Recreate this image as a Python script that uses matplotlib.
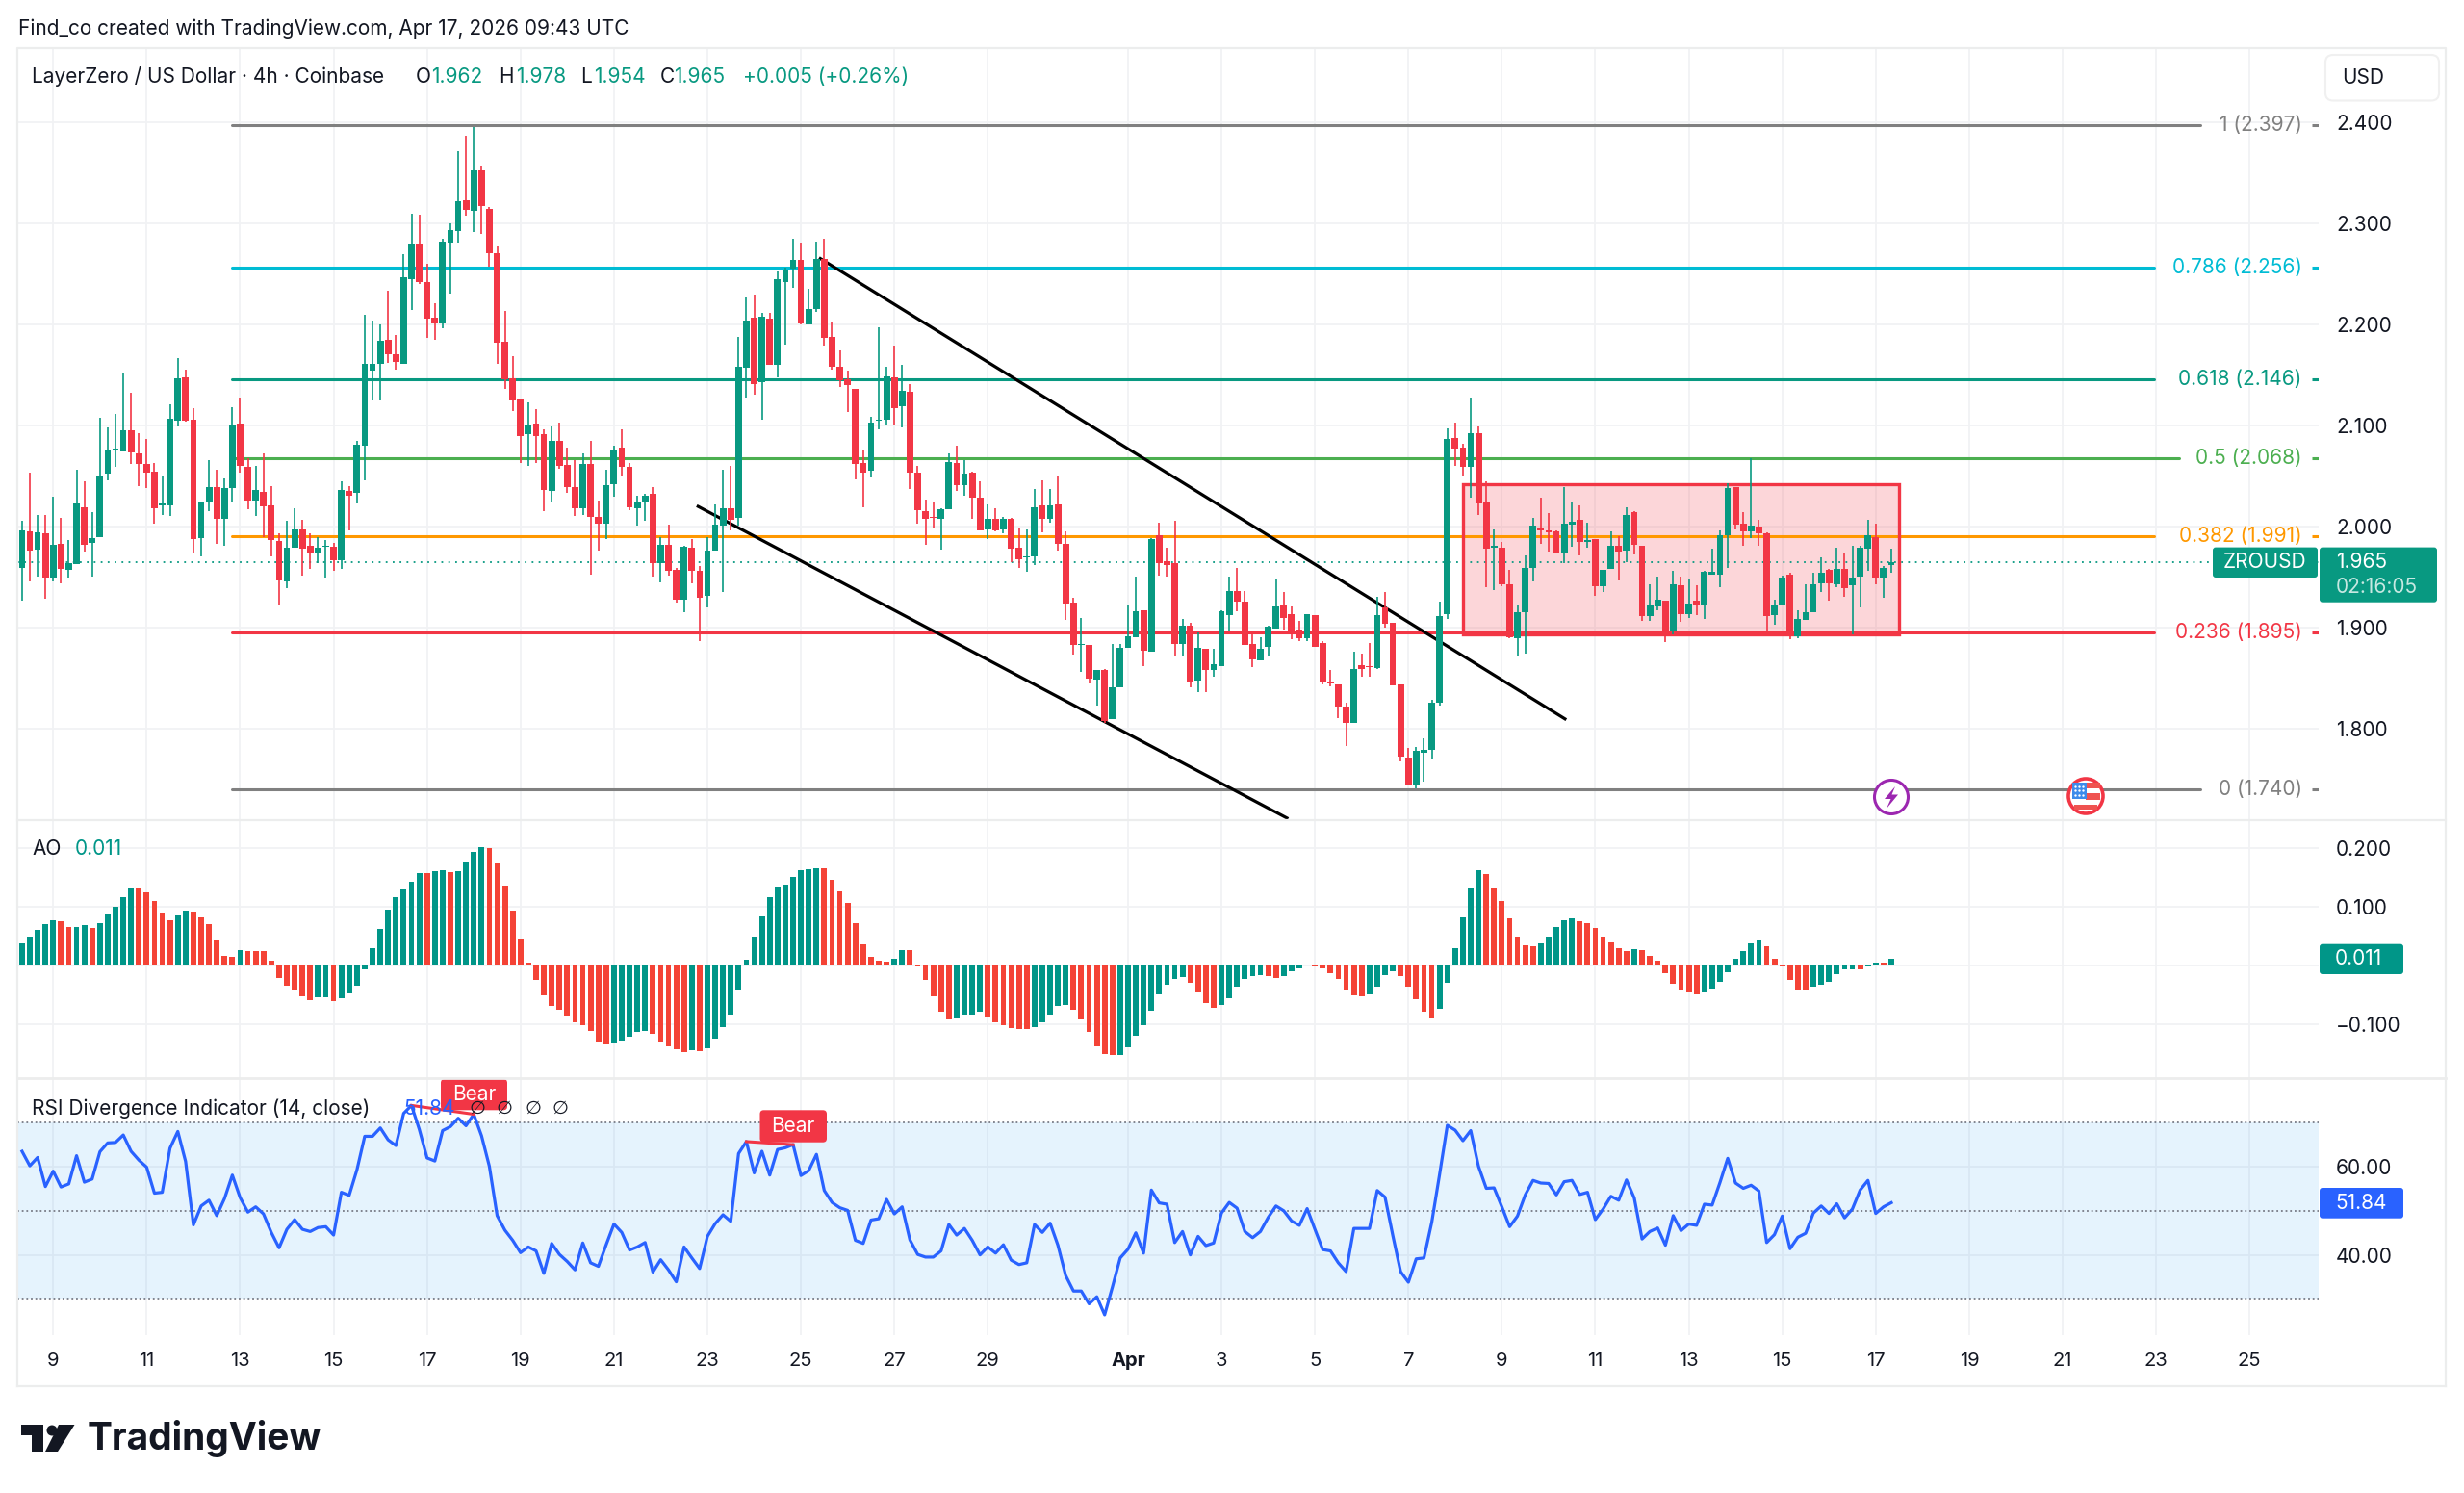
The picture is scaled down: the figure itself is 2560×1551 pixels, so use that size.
import matplotlib
matplotlib.use('Agg')
import matplotlib.pyplot as plt
import matplotlib.dates as mdates
import pandas as pd
from matplotlib.patches import Circle, FancyBboxPatch, Polygon, Rectangle

plt.rcParams['font.family'] = ['Inter', 'DejaVu Sans']

# ZRO/USD 4h candles
opens = [1.959,1.995,1.977,1.993,1.950,1.983,1.957,1.963,2.019,1.984,
         1.990,2.052,2.075,2.074,2.095,2.072,2.062,2.054,2.021,2.021,
         2.105,2.148,2.106,1.989,2.024,2.039,2.008,2.038,2.102,2.059,
         2.026,2.034,2.021,1.986,1.946,1.979,1.997,1.981,1.974,1.980,
         1.980,1.967,2.035,2.033,2.080,2.154,2.161,2.185,2.170,2.161,
         2.245,2.280,2.242,2.207,2.201,2.281,2.292,2.323,2.312,2.352,
         2.314,2.270,2.183,2.147,2.126,2.091,2.102,2.091,2.035,2.085,
         2.061,2.039,2.018,2.062,2.010,2.003,2.042,2.078,2.059,2.018,
         2.024,2.032,1.964,1.982,1.957,1.928,1.979,1.956,1.932,1.976,
         2.001,2.018,2.009,2.157,2.207,2.143,2.206,2.160,2.242,2.255,
         2.264,2.200,2.215,2.265,2.188,2.158,2.146,2.136,2.063,2.055,
         2.105,2.106,2.148,2.119,2.133,2.053,2.015,2.010,2.008,2.017,
         2.063,2.041,2.053,2.029,1.997,2.008,1.997,2.008,1.979,1.970,
         1.971,2.021,2.008,2.022,1.983,1.925,1.883,1.883,1.849,1.858,
         1.810,1.841,1.880,1.891,1.917,1.876,1.992,1.966,1.964,1.884,
         1.902,1.848,1.879,1.858,1.862,1.913,1.936,1.926,1.884,1.868,
         1.881,1.899,1.923,1.914,1.898,1.890,1.913,1.885,1.847,1.844,
         1.822,1.806,1.863,1.862,1.860,1.920,1.905,1.844,1.772,1.745,
         1.777,1.779,1.826,1.914,2.088,2.078,2.059,2.092,2.025,1.979,
         1.979,1.943,1.890,1.915,1.959,1.999,1.996,1.995,1.974,2.002,
         2.007,1.985,1.988,1.941,1.958,1.981,1.976,2.014,1.981,1.912,
         1.921,1.927,1.896,1.942,1.914,1.927,1.922,1.953,1.953,1.992,
         2.039,2.003,1.995,2.000,1.993,1.913,1.923,1.953,1.892,1.908,
         1.915,1.944,1.957,1.943,1.958,1.942,1.951,1.978,1.990,1.950,
         1.962]
highs = [2.006,2.053,2.012,2.012,2.030,2.009,1.987,2.056,2.045,2.014,
         2.108,2.098,2.111,2.151,2.132,2.092,2.087,2.063,2.051,2.121,
         2.167,2.155,2.117,2.025,2.066,2.056,2.048,2.118,2.128,2.068,
         2.060,2.072,2.040,1.993,2.006,2.018,2.007,1.993,1.990,1.987,
         1.984,2.045,2.040,2.085,2.209,2.204,2.200,2.233,2.189,2.269,
         2.309,2.308,2.260,2.221,2.285,2.300,2.371,2.386,2.395,2.357,
         2.316,2.277,2.213,2.169,2.126,2.123,2.116,2.096,2.099,2.103,
         2.078,2.066,2.072,2.085,2.026,2.056,2.080,2.096,2.063,2.031,
         2.032,2.039,1.990,2.002,1.959,1.981,1.988,1.961,1.990,2.022,
         2.056,2.060,2.188,2.227,2.229,2.211,2.211,2.252,2.256,2.285,
         2.281,2.235,2.282,2.285,2.202,2.174,2.154,2.136,2.075,2.109,
         2.197,2.158,2.179,2.160,2.141,2.060,2.027,2.024,2.018,2.072,
         2.080,2.066,2.054,2.045,2.022,2.018,2.010,2.009,1.998,1.997,
         2.037,2.046,2.037,2.050,1.995,1.930,1.910,1.883,1.858,1.859,
         1.884,1.884,1.922,1.951,1.917,1.989,2.004,1.979,2.006,1.909,
         1.905,1.895,1.879,1.879,1.917,1.951,1.959,1.936,1.897,1.891,
         1.902,1.949,1.935,1.921,1.907,1.914,1.913,1.887,1.858,1.844,
         1.826,1.876,1.875,1.885,1.931,1.935,1.905,1.844,1.781,1.782,
         1.791,1.829,1.926,2.097,2.103,2.082,2.128,2.099,2.045,1.997,
         1.985,1.957,1.923,1.972,2.009,2.029,2.013,1.996,2.039,2.024,
         2.021,2.004,1.988,1.957,1.995,1.991,2.019,2.015,1.981,1.943,
         1.951,1.927,1.956,1.951,1.948,1.942,1.956,1.978,1.996,2.043,
         2.039,2.014,2.068,2.007,1.994,1.928,1.952,1.954,1.917,1.943,
         1.954,1.970,1.958,1.979,1.974,1.981,1.981,2.007,2.003,1.961,
         1.978]
lows = [1.927,1.946,1.951,1.929,1.946,1.944,1.950,1.963,1.975,1.951,
        1.990,2.046,2.059,2.074,2.062,2.040,2.038,2.003,2.012,2.011,
        2.099,2.104,1.974,1.971,2.015,1.983,1.981,2.024,2.053,2.017,
        2.011,1.990,1.971,1.923,1.939,1.979,1.952,1.958,1.964,1.950,
        1.956,1.958,1.996,2.023,2.046,2.125,2.125,2.162,2.155,2.161,
        2.214,2.240,2.187,2.185,2.196,2.230,2.281,2.307,2.291,2.289,
        2.257,2.161,2.136,2.114,2.063,2.060,2.063,2.015,2.024,2.057,
        2.033,2.011,2.012,1.953,1.976,1.988,2.030,2.051,2.016,2.001,
        2.006,1.951,1.945,1.952,1.925,1.915,1.944,1.887,1.920,1.976,
        1.935,1.996,2.001,2.128,2.130,2.106,2.160,2.148,2.180,2.236,
        2.200,2.200,2.212,2.179,2.155,2.138,2.113,2.047,2.019,2.049,
        2.096,2.101,2.101,2.098,2.037,2.003,1.982,1.999,1.977,2.017,
        2.035,2.031,2.008,1.996,1.988,1.995,1.993,1.965,1.959,1.955,
        1.962,1.994,2.004,1.976,1.908,1.874,1.856,1.845,1.823,1.806,
        1.810,1.841,1.880,1.891,1.862,1.876,1.952,1.951,1.872,1.873,
        1.841,1.836,1.836,1.852,1.862,1.896,1.916,1.883,1.861,1.868,
        1.872,1.899,1.898,1.889,1.887,1.887,1.881,1.844,1.842,1.811,
        1.783,1.806,1.852,1.852,1.859,1.900,1.843,1.768,1.744,1.741,
        1.748,1.771,1.823,1.909,2.060,2.050,2.029,2.012,1.940,1.937,
        1.941,1.890,1.873,1.875,1.946,1.983,1.975,1.974,1.964,1.980,
        1.972,1.979,1.932,1.935,1.958,1.947,1.965,1.973,1.907,1.907,
        1.917,1.886,1.894,1.906,1.910,1.913,1.909,1.953,1.940,1.959,
        1.997,1.981,1.989,1.981,1.896,1.903,1.923,1.889,1.890,1.908,
        1.915,1.935,1.927,1.940,1.931,1.894,1.920,1.956,1.943,1.930,
        1.954]
closes = [1.996,1.976,1.994,1.950,1.982,1.958,1.964,2.023,1.982,1.989,
          2.051,2.075,2.077,2.095,2.073,2.062,2.053,2.018,2.023,2.107,
          2.147,2.105,1.988,2.024,2.039,2.008,2.038,2.100,2.060,2.026,
          2.036,2.020,1.987,1.947,1.979,1.997,1.978,1.974,1.979,1.981,
          1.967,2.036,2.031,2.081,2.161,2.161,2.184,2.170,2.163,2.247,
          2.280,2.242,2.206,2.201,2.282,2.293,2.322,2.313,2.352,2.317,
          2.270,2.182,2.146,2.125,2.090,2.100,2.090,2.036,2.085,2.060,
          2.039,2.018,2.062,2.010,2.003,2.041,2.075,2.059,2.019,2.024,
          2.031,1.964,1.982,1.956,1.928,1.980,1.956,1.930,1.976,2.002,
          2.018,2.007,2.158,2.204,2.141,2.208,2.160,2.245,2.253,2.264,
          2.201,2.215,2.265,2.187,2.158,2.145,2.140,2.062,2.053,2.103,
          2.106,2.149,2.117,2.134,2.053,2.016,2.008,2.009,2.017,2.064,
          2.041,2.052,2.029,1.996,2.008,1.996,2.008,1.978,1.968,1.971,
          2.019,2.008,2.021,1.983,1.924,1.883,1.884,1.850,1.858,1.808,
          1.841,1.880,1.892,1.916,1.877,1.988,1.964,1.962,1.884,1.902,
          1.846,1.880,1.858,1.864,1.916,1.936,1.926,1.883,1.869,1.879,
          1.901,1.921,1.910,1.897,1.890,1.914,1.881,1.846,1.845,1.822,
          1.806,1.859,1.859,1.861,1.913,1.904,1.843,1.773,1.745,1.778,
          1.779,1.826,1.912,2.087,2.077,2.059,2.092,2.023,1.978,1.981,
          1.943,1.891,1.915,1.959,2.001,1.996,1.994,1.974,2.003,2.005,
          1.985,1.987,1.941,1.957,1.981,1.975,2.012,1.982,1.912,1.922,
          1.928,1.896,1.943,1.914,1.924,1.922,1.955,1.955,1.992,2.038,
          2.002,1.995,2.001,1.993,1.912,1.923,1.950,1.893,1.909,1.915,
          1.943,1.954,1.944,1.958,1.939,1.950,1.979,1.992,1.950,1.959,
          1.965]

# Awesome Oscillator
ao = [0.038,0.050,0.060,0.071,0.078,0.075,0.0655,0.0660,0.069,0.064,
      0.073,0.089,0.100,0.116,0.134,0.131,0.125,0.111,0.090,0.078,
      0.085,0.093,0.092,0.082,0.071,0.043,0.016,0.014,0.027,0.025,
      0.0245,0.024,0.008,-0.021,-0.035,-0.042,-0.053,-0.059,-0.0545,-0.054,
      -0.061,-0.056,-0.048,-0.035,-0.006,0.029,0.062,0.096,0.117,0.130,
      0.143,0.158,0.1575,0.161,0.163,0.160,0.161,0.177,0.195,0.202,
      0.200,0.174,0.137,0.093,0.046,0.005,-0.025,-0.051,-0.070,-0.076,
      -0.086,-0.097,-0.102,-0.112,-0.130,-0.135,-0.134,-0.128,-0.122,-0.114,
      -0.112,-0.117,-0.131,-0.138,-0.143,-0.148,-0.1455,-0.146,-0.142,-0.125,
      -0.105,-0.084,-0.041,0.009,0.049,0.084,0.116,0.135,0.139,0.151,
      0.163,0.164,0.167,0.166,0.146,0.127,0.107,0.073,0.036,0.014,
      0.008,0.006,0.012,0.026,0.0255,-0.001,-0.025,-0.053,-0.080,-0.092,
      -0.091,-0.085,-0.084,-0.079,-0.088,-0.097,-0.103,-0.107,-0.109,-0.1095,
      -0.106,-0.097,-0.085,-0.070,-0.067,-0.076,-0.093,-0.114,-0.139,-0.152,
      -0.154,-0.153,-0.140,-0.120,-0.102,-0.078,-0.050,-0.033,-0.024,-0.020,
      -0.029,-0.047,-0.064,-0.073,-0.068,-0.056,-0.037,-0.024,-0.018,-0.017,
      -0.019,-0.021,-0.018,-0.010,-0.005,0.002,-0.002,-0.005,-0.013,-0.024,
      -0.041,-0.052,-0.053,-0.050,-0.037,-0.017,-0.010,-0.018,-0.036,-0.057,
      -0.080,-0.091,-0.075,-0.030,0.029,0.082,0.133,0.163,0.157,0.133,
      0.111,0.081,0.049,0.034,0.032,0.038,0.050,0.066,0.078,0.081,
      0.076,0.073,0.064,0.049,0.039,0.029,0.0245,0.028,0.027,0.017,
      0.008,-0.013,-0.032,-0.042,-0.046,-0.050,-0.047,-0.039,-0.028,-0.012,
      0.011,0.025,0.038,0.043,0.032,0.011,-0.002,-0.025,-0.041,-0.042,
      -0.036,-0.033,-0.028,-0.015,-0.007,-0.006,-0.007,-0.001,0.005,0.004,
      0.011]

# RSI (14, close)
rsi = [63.5,60.2,62.1,55.5,59.0,55.4,56.1,62.5,56.5,57.2,
       63.4,65.4,65.5,67.2,63.5,61.5,59.9,54.0,54.2,64.2,
       68.0,61.2,46.8,51.1,52.4,48.9,52.8,58.1,53.0,49.7,
       50.9,49.3,45.1,41.6,45.8,48.0,45.8,45.3,46.2,46.4,
       44.5,54.2,53.5,59.3,66.9,66.9,68.8,66.1,64.8,72.1,
       73.9,68.5,62.0,61.3,68.2,69.1,71.0,69.3,71.9,67.0,
       60.1,48.9,45.6,43.3,40.5,41.8,40.9,35.8,42.6,40.1,
       38.5,36.6,42.7,38.2,37.4,42.3,47.0,45.1,41.1,41.8,
       42.8,36.1,38.9,36.6,33.9,41.8,39.3,36.9,44.2,47.1,
       49.1,47.6,63.0,65.7,58.6,63.5,58.1,63.9,64.3,65.0,
       58.0,59.1,62.8,54.6,51.9,50.7,50.1,43.3,42.6,47.9,
       48.2,52.6,49.3,50.9,43.4,40.1,39.5,39.5,40.9,46.9,
       44.5,46.0,43.3,40.0,41.8,40.4,42.3,38.8,37.8,38.2,
       46.9,45.1,47.2,42.2,35.3,31.8,31.8,28.9,30.5,26.4,
       32.7,39.3,41.3,45.0,40.4,54.7,51.8,51.5,42.8,45.3,
       40.0,44.2,42.1,42.7,49.5,51.9,50.6,45.3,43.9,45.3,
       48.5,51.1,50.0,47.7,46.7,50.5,45.8,41.2,40.9,38.2,
       36.2,46.0,46.0,46.0,54.6,53.1,44.4,36.2,33.8,39.1,
       39.3,47.4,58.2,69.4,68.3,65.9,68.2,60.1,55.1,55.2,
       50.9,46.4,48.8,53.6,56.9,56.3,56.2,53.6,56.6,56.9,
       53.7,54.2,48.0,50.4,53.3,52.4,57.0,52.9,43.6,45.3,
       46.1,42.2,48.9,45.5,47.0,46.7,51.5,51.3,56.4,61.9,
       56.3,55.1,55.8,54.5,42.8,44.6,48.8,41.4,44.0,44.9,
       49.5,51.1,49.4,51.6,48.4,50.4,54.7,56.9,49.4,50.9,
       51.84]

# Fibonacci retracement levels
fib_labels = ['1 (2.397)', '0.786 (2.256)', '0.618 (2.146)', '0.5 (2.068)',
              '0.382 (1.991)', '0.236 (1.895)', '0 (1.740)']
fib_levels = [2.397, 2.256, 2.146, 2.068, 1.991, 1.895, 1.740]
fib_colors = ['#808080', '#00bcd4', '#089981', '#4caf50', '#ff9800', '#f23645', '#808080']
fib_line_end = [2286, 2238, 2238, 2264, 2238, 2238, 2286]

price_ticks = [1.8, 1.9, 2.0, 2.1, 2.2, 2.3, 2.4]
price_tick_labels = ['1.800', '1.900', '2.000', '2.100', '2.200', '2.300', '2.400']
ao_ticks = [-0.1, 0, 0.1, 0.2]
ao_tick_labels = ['\u22120.100', '', '0.100', '0.200']
rsi_ticks = [40, 60]
rsi_tick_labels = ['40.00', '60.00']
rsi_levels = [30, 50, 70]

# channel trend lines and consolidation box (bar index, price)
upper_trend_bars = [102.5, 198.1]
upper_trend_prices = [2.265, 1.810]
lower_trend_bars = [86.8, 162.4]
lower_trend_prices = [2.020, 1.712]
box_bars = [185, 241]
box_prices = [1.894, 2.0417]

# RSI divergence segments (bar indexes)
bear_segments = [(50, 58), (93, 99)]

day_ticks = ['2026-03-09', '2026-03-11', '2026-03-13', '2026-03-15', '2026-03-17', '2026-03-19',
             '2026-03-21', '2026-03-23', '2026-03-25', '2026-03-27', '2026-03-29', '2026-04-01',
             '2026-04-03', '2026-04-05', '2026-04-07', '2026-04-09', '2026-04-11', '2026-04-13',
             '2026-04-15', '2026-04-17', '2026-04-19', '2026-04-21', '2026-04-23', '2026-04-25']
day_labels = ['9', '11', '13', '15', '17', '19', '21', '23', '25', '27', '29', 'Apr',
              '3', '5', '7', '9', '11', '13', '15', '17', '19', '21', '23', '25']

GREEN = '#089981'
RED = '#f23645'
AO_GREEN = '#009688'
AO_RED = '#f44336'
BLUE = '#2962ff'
INK = '#131722'
GRID = '#f1f2f4'
FRAME = '#eceded'

W, H = 2560, 1551
LEFT, RIGHT = 18, 2409

fig = plt.figure(figsize=(W / 100, H / 100), dpi=100, facecolor='white')


def pane(top, bottom):
    ax = fig.add_axes([LEFT / W, 1 - bottom / H, (RIGHT - LEFT) / W, (bottom - top) / H])
    for s in ax.spines.values():
        s.set_visible(False)
    ax.set_axisbelow(True)
    ax.grid(True, color=GRID, lw=1.3)
    ax.yaxis.tick_right()
    ax.tick_params(axis='y', length=0, pad=13, labelsize=15, labelcolor=INK)
    ax.tick_params(axis='x', length=0, labelbottom=False)
    return ax


dates = pd.date_range('2026-03-08 08:00', periods=len(closes), freq='4h')
x = mdates.date2num(dates)
bar = 1 / 6
px_per_bar = 8.092


def bar_x(i):
    return x[0] + i * bar


xlim = (bar_x((LEFT - 22.9) / px_per_bar), bar_x((RIGHT - 22.9) / px_per_bar))
tick_x = mdates.date2num(pd.to_datetime(day_ticks))

ax1 = pane(50, 851.5)
ax2 = pane(851.5, 1120)
ax3 = pane(1120, 1387)
for ax in (ax1, ax2, ax3):
    ax.set_xlim(xlim)
    ax.set_xticks(tick_x)

# price pane
ax1.set_ylim(1.7104, 2.473)
ax1.set_yticks(price_ticks, price_tick_labels)

trans = ax1.get_yaxis_transform()
fib_start = bar_x(26.9)
for label, level, color, end in zip(fib_labels, fib_levels, fib_colors, fib_line_end):
    end_x = bar_x((end - 22.9) / px_per_bar)
    ax1.plot([fib_start, end_x], [level, level], color=color, lw=2.2, zorder=1.5,
             solid_capstyle='round')
    ax1.text((2391.7 - LEFT) / (RIGHT - LEFT), level, label, transform=trans, color=color,
             ha='right', va='center', fontsize=15, zorder=1.6)
    ax1.plot([(2401.7 - LEFT) / (RIGHT - LEFT), 1], [level, level], transform=trans,
             color=color, lw=2.2, solid_capstyle='butt', zorder=1.5)

ax1.add_patch(Rectangle((bar_x(box_bars[0]), box_prices[0]),
                        (box_bars[1] - box_bars[0]) * bar, box_prices[1] - box_prices[0],
                        facecolor=RED, alpha=0.2, edgecolor='none', zorder=1.2))
ax1.add_patch(Rectangle((bar_x(box_bars[0]), box_prices[0]),
                        (box_bars[1] - box_bars[0]) * bar, box_prices[1] - box_prices[0],
                        facecolor='none', edgecolor=RED, lw=2.4, zorder=1.8))

ax1.axhline(closes[-1], color=GREEN, lw=1.3, ls=(0, (1, 3)), zorder=1.3)

ax1.plot([bar_x(b) for b in upper_trend_bars], upper_trend_prices, color='black', lw=2.3, zorder=2.5)
ax1.plot([bar_x(b) for b in lower_trend_bars], lower_trend_prices, color='black', lw=2.3, zorder=2.5)

candle_colors = [GREEN if c >= o else RED for o, c in zip(opens, closes)]
ax1.vlines(x, lows, highs, colors=candle_colors, lw=1.2, zorder=3)
ax1.bar(x, [c - o for o, c in zip(opens, closes)], bottom=opens, width=bar * 0.84,
        color=candle_colors, linewidth=0, zorder=3.1)

# AO pane
ax2.set_ylim(-0.1929, 0.2494)
ax2.set_yticks(ao_ticks, ao_tick_labels)
ao_colors = [AO_GREEN] + [AO_GREEN if ao[i] >= ao[i - 1] else AO_RED for i in range(1, len(ao))]
ax2.bar(x, ao, width=bar * 0.72, color=ao_colors, linewidth=0, zorder=3)

# RSI pane
ax3.set_ylim(21.8, 80.1)
ax3.set_yticks(rsi_ticks, rsi_tick_labels)
ax3.axhspan(rsi_levels[0], rsi_levels[2], color='#2196f3', alpha=0.115, lw=0, zorder=1)
for level in rsi_levels:
    ax3.axhline(level, color='#787b86', lw=1.3, ls=(0, (1, 1.6)), zorder=1.5)
ax3.plot(x, rsi, color=BLUE, lw=2.3, zorder=3, solid_joinstyle='round')
for a, b in bear_segments:
    ax3.plot([x[a], x[b]], [rsi[a], rsi[b]], color=RED, lw=2.2, zorder=3.2)

ax3.tick_params(axis='x', labelbottom=True, pad=13, labelsize=14.5, labelcolor=INK)
ax3.set_xticklabels(day_labels)
for t, lab in zip(ax3.get_xticklabels(), day_labels):
    if lab == 'Apr':
        t.set_fontweight('bold')

# frame, legends and axis tags live on a pixel overlay
ov = fig.add_axes([0, 0, 1, 1], facecolor='none', zorder=10)
ov.set_xlim(0, W)
ov.set_ylim(H, 0)
ov.axis('off')

ov.plot([18, 18, 2541, 2541], [1440, 50, 50, 1440], color=FRAME, lw=1.6)
ov.plot([18, 2541], [1440, 1440], color=FRAME, lw=1.6)
ov.plot([18, 2541], [851.5, 851.5], color=FRAME, lw=1.6)
ov.plot([18, 2541], [1120, 1120], color=FRAME, lw=2)


def tag(x0, y0, x1, y1, color, r=3, ec='none', lw=0):
    ov.add_patch(FancyBboxPatch((x0 + r, y0 + r), x1 - x0 - 2 * r, y1 - y0 - 2 * r,
                                boxstyle='round,pad=%d,rounding_size=%d' % (r, r),
                                facecolor=color, edgecolor=ec, lw=lw))


ov.text(19, 30, 'Find_co created with TradingView.com, Apr 17, 2026 09:43 UTC',
        fontsize=15, color=INK, va='center')
ov.text(33, 80, 'LayerZero / US Dollar \u00b7 4h \u00b7 Coinbase', fontsize=15, color=INK, va='center')
for px, s in [(432, 'O'), (518.5, 'H'), (603, 'L'), (685.6, 'C')]:
    ov.text(px, 80, s, fontsize=15, color=INK, va='center')
for px, s in [(448, '1.962'), (536, '1.978'), (617, '1.954'), (700, '1.965'),
              (771.7, '+0.005 (+0.26%)')]:
    ov.text(px, 80, s, fontsize=15, color=GREEN, va='center')

ov.text(33, 882.5, 'AO', fontsize=15, color=INK, va='center')
ov.text(78, 882.5, '0.011', fontsize=15, color=AO_GREEN, va='center')

tag(2416, 57, 2534, 104.5, 'white', r=8, ec='#f0f0f0', lw=1.5)
ov.text(2433, 81, 'USD', fontsize=15, color=INK, va='center')

tag(2299, 568.6, 2408, 600, GREEN)
ov.text(2353.5, 584, 'ZROUSD', fontsize=15, color='white', va='center', ha='center')
tag(2410, 568.6, 2532, 625.7, GREEN)
ov.text(2427, 584, '1.965', fontsize=15, color='white', va='center')
ov.text(2427, 609.5, '02:16:05', fontsize=15, color='#c6e8e1', va='center')

tag(2410, 980.7, 2497, 1012, AO_GREEN)
ov.text(2426, 996, '0.011', fontsize=15, color='white', va='center')
tag(2410, 1234, 2497, 1265.7, BLUE)
ov.text(2426, 1250, '51.84', fontsize=15, color='white', va='center')

# Bear tags over the RSI pane
for x0, y0, x1, y1 in [(458, 1121, 527, 1153.3), (789.5, 1153.3, 859, 1186.7)]:
    tag(x0, y0, x1, y1, RED, r=4)
    ov.text((x0 + x1) / 2, (y0 + y1) / 2, 'Bear', fontsize=15, color='white',
            ha='center', va='center')

ov.text(33, 1151.5, 'RSI Divergence Indicator (14, close)', fontsize=15, color=INK, va='center')
ov.text(419.6, 1151.5, '51.84', fontsize=15, color=BLUE, va='center')
for px in [496, 524, 553.6, 581.6]:
    ov.text(px, 1151.5, '\u2205', fontsize=14, color=INK, va='center', ha='center',
            family='DejaVu Sans')

# earnings and economic event markers on the time line
ov.add_patch(Circle((1965, 828), 17.5, facecolor='white', edgecolor='#9c27b0', lw=2.2))
ov.add_patch(Polygon([(1969, 817), (1958, 830), (1964.5, 830), (1960, 840),
                      (1972, 825.5), (1965.5, 825.5)], closed=True, facecolor='#9c27b0',
                     edgecolor='none'))

ov.add_patch(Circle((2167, 827), 18, facecolor='white', edgecolor=RED, lw=2.6))
ov.add_patch(Rectangle((2153, 813), 29, 6, facecolor='#ef5350', edgecolor='none'))
ov.add_patch(Rectangle((2167, 824), 15, 7, facecolor='#ef5350', edgecolor='none'))
ov.add_patch(Rectangle((2155, 836), 24, 5, facecolor='#ef5350', edgecolor='none'))
ov.add_patch(Rectangle((2153, 813), 15, 17, facecolor='#3d8bea', edgecolor='none'))
ov.scatter([2156, 2160, 2164, 2156, 2160, 2164, 2156, 2160, 2164],
           [817, 817, 817, 821, 821, 821, 826, 826, 826], s=3, color='white', linewidths=0)

# TradingView mark and wordmark
ov.add_patch(Polygon([(22, 1480), (45, 1480), (45, 1508), (33, 1508), (33, 1491), (22, 1491)],
                     closed=True, facecolor=INK, edgecolor='none'))
ov.add_patch(Circle((54, 1486), 5.5, facecolor=INK, edgecolor='none'))
ov.add_patch(Polygon([(61, 1480), (77.5, 1480), (60, 1508), (47, 1508)],
                     closed=True, facecolor=INK, edgecolor='none'))
ov.text(91, 1495, 'TradingView', fontsize=28, fontweight='bold', color=INK, va='center')

fig.savefig('out.png', dpi=100)
